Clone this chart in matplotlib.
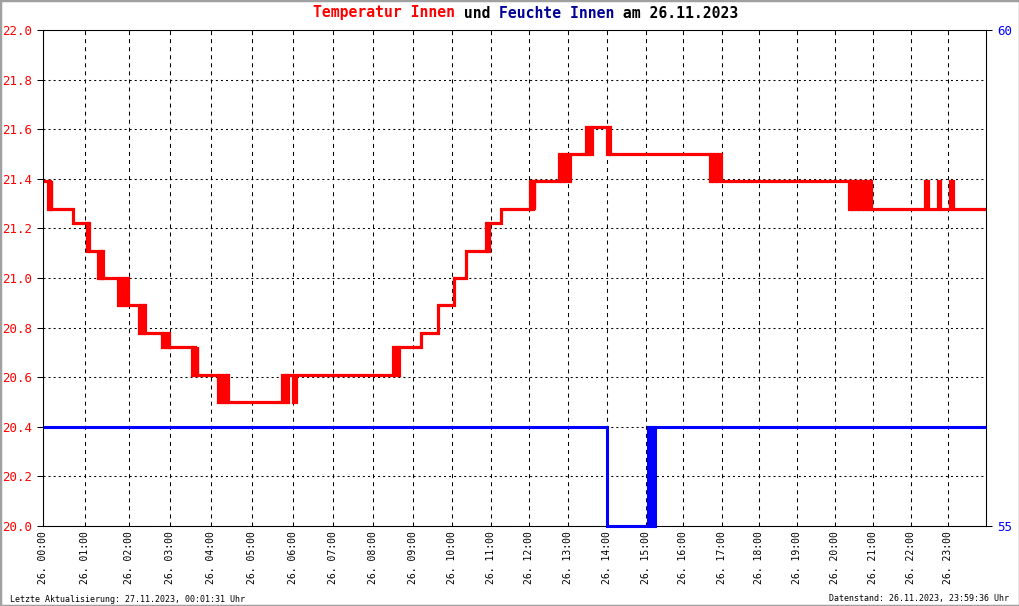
import numpy as np
import matplotlib
matplotlib.use("Agg")
import matplotlib.pyplot as plt
from matplotlib.patches import Rectangle

# ---------------- data ----------------
# x axis of the original is sample-indexed: relative position of each full hour
hour_marks = list(range(25))
hour_pos = [0, 41.5, 85.5, 126.5, 167.5, 208.5, 249.5, 289.5, 329.5, 369.5,
            408.5, 447.5, 485.5, 524.5, 563.5, 602.5, 639.5, 678.5, 715.5,
            753.5, 791.5, 829.5, 867.5, 904.5, 942.5]
hour_labels = [f"26. {h:02d}:00" for h in range(24)]

# temperature (step series, hours / degC)
temp_time = [0.00, 0.11, 0.13, 0.15, 0.17, 0.19,
             0.72,
             1.05, 1.07, 1.09,
             1.30, 1.33, 1.36, 1.39, 1.41,
             1.76, 1.80, 1.84, 1.88, 1.92, 1.95, 1.97,
             2.25, 2.29, 2.33, 2.37, 2.40,
             2.81, 2.85, 2.90, 2.95, 2.98,
             3.53, 3.57, 3.61, 3.65, 3.67,
             4.18, 4.22, 4.27, 4.31, 4.36, 4.40, 4.42,
             5.72, 5.78, 5.81, 5.85, 5.88, 6.01, 6.07,
             8.50, 8.54, 8.58, 8.62, 8.66,
             9.20, 9.63, 10.05, 10.37,
             10.87, 10.91, 10.95,
             11.27,
             12.03, 12.06, 12.09, 12.12, 12.14,
             12.78, 12.83, 12.88, 12.93, 12.98, 13.03, 13.06,
             13.46, 13.50, 13.54, 13.58, 13.62,
             14.01, 14.04, 14.07,
             16.69, 16.73, 16.78, 16.83, 16.88, 16.93, 16.97,
             20.37, 20.41, 20.46, 20.51, 20.56, 20.61, 20.66, 20.71,
             20.76, 20.81, 20.86, 20.91, 20.96,
             22.39, 22.46, 22.73, 22.78, 23.05, 23.12, 23.99]
temp_val = [21.39, 21.28, 21.39, 21.28, 21.39, 21.28,
            21.22,
            21.11, 21.22, 21.11,
            21.00, 21.11, 21.00, 21.11, 21.00,
            20.89, 21.00, 20.89, 21.00, 20.89, 21.00, 20.89,
            20.78, 20.89, 20.78, 20.89, 20.78,
            20.72, 20.78, 20.72, 20.78, 20.72,
            20.61, 20.72, 20.61, 20.72, 20.61,
            20.50, 20.61, 20.50, 20.61, 20.50, 20.61, 20.50,
            20.61, 20.50, 20.61, 20.50, 20.61, 20.50, 20.61,
            20.72, 20.61, 20.72, 20.61, 20.72,
            20.78, 20.89, 21.00, 21.11,
            21.22, 21.11, 21.22,
            21.28,
            21.39, 21.28, 21.39, 21.28, 21.39,
            21.50, 21.39, 21.50, 21.39, 21.50, 21.39, 21.50,
            21.61, 21.50, 21.61, 21.50, 21.61,
            21.50, 21.61, 21.50,
            21.39, 21.50, 21.39, 21.50, 21.39, 21.50, 21.39,
            21.28, 21.39, 21.28, 21.39, 21.28, 21.39, 21.28, 21.39,
            21.28, 21.39, 21.28, 21.39, 21.28,
            21.39, 21.28, 21.39, 21.28, 21.39, 21.28, 21.28]

# humidity (step series, hours / %)
hum_time = [0.00, 14.01, 15.06, 15.09, 15.12, 15.15, 15.18, 15.21, 15.24, 15.26, 23.99]
hum_val = [56, 55, 56, 55, 56, 55, 56, 55, 56, 56, 56]

temp_ticks = [20.0, 20.2, 20.4, 20.6, 20.8, 21.0, 21.2, 21.4, 21.6, 21.8, 22.0]
hum_ticks = [55, 60]

# ---------------- plot ----------------
plt.rcParams["lines.scale_dashes"] = False
MONO = "DejaVu Sans Mono"
W, H = 1020, 606

fig = plt.figure(figsize=(W / 100, H / 100), dpi=100)
fig.patch.set_facecolor("white")
ax = fig.add_axes([43.5 / W, 80 / H, 942.5 / W, 496 / H])
ax2 = ax.twinx()


def fwd(t):
    return np.interp(t, hour_marks, hour_pos)


def inv(p):
    return np.interp(p, hour_pos, hour_marks)


ax.set_xscale("function", functions=(fwd, inv))
ax.set_xlim(0, 24)
ax.set_ylim(20, 22)
ax2.set_ylim(55, 60)

ax.step(temp_time, temp_val, where="post", color="#ff0000", lw=2.3,
        solid_joinstyle="miter", solid_capstyle="butt", zorder=3)
ax2.step(hum_time, hum_val, where="post", color="#0000ff", lw=2.2,
         solid_joinstyle="miter", solid_capstyle="butt", zorder=3,
         clip_on=False)

# grid
ax.set_xticks(hour_marks[:24])
ax.set_xticklabels(hour_labels, rotation=90, fontfamily=MONO, fontsize=7,
                   va="top", ha="center")
ax.tick_params(axis="x", length=0, pad=4)
ax.xaxis.grid(True, color="black", lw=0.75, linestyle=(0, (2.9, 2.9)))
ax.set_yticks(temp_ticks)
ax.set_yticklabels([f"{v:.1f}" for v in temp_ticks], fontfamily=MONO,
                   fontsize=9, color="#ff0000")
ax.tick_params(axis="y", length=4, width=0.75, direction="out", pad=4)
ax.yaxis.grid(True, color="black", lw=0.75, linestyle=(0, (1.45, 2.2)))
ax.set_axisbelow(True)

ax2.set_yticks(hum_ticks)
ax2.set_yticklabels([str(v) for v in hum_ticks], fontfamily=MONO,
                    fontsize=9, color="#0000ff")
ax2.tick_params(axis="y", length=4, width=0.75, direction="out", pad=4)

for a in (ax, ax2):
    for s in a.spines.values():
        s.set_color("black")
        s.set_linewidth(0.75)

# title in coloured pieces (monospace)
tfs = 10.6
char_px = 0.602 * tfs * 100 / 72
pieces = [("Temperatur Innen", "#ff0000"), (" und ", "black"),
          ("Feuchte Innen", "#000096"), (" am 26.11.2023", "black")]
x0 = 312.7
for txt, col in pieces:
    fig.text(x0 / W, (H - 17.5) / H, txt, color=col, fontfamily=MONO,
             fontweight="bold", fontsize=tfs, ha="left", va="baseline")
    x0 += len(txt) * char_px

fig.text(10 / W, 4.5 / H, "Letzte Aktualisierung: 27.11.2023, 00:01:31 Uhr",
         fontfamily=MONO, fontsize=6, ha="left", va="baseline")
fig.text(1009 / W, 4.5 / H, "Datenstand: 26.11.2023, 23:59:36 Uhr",
         fontfamily=MONO, fontsize=6, ha="right", va="baseline")

fig.patches.append(Rectangle((0, 0), 1, 1, transform=fig.transFigure,
                             fill=False, edgecolor="#a0a0a0", lw=2.5))

fig.savefig("out.png", dpi=100)
